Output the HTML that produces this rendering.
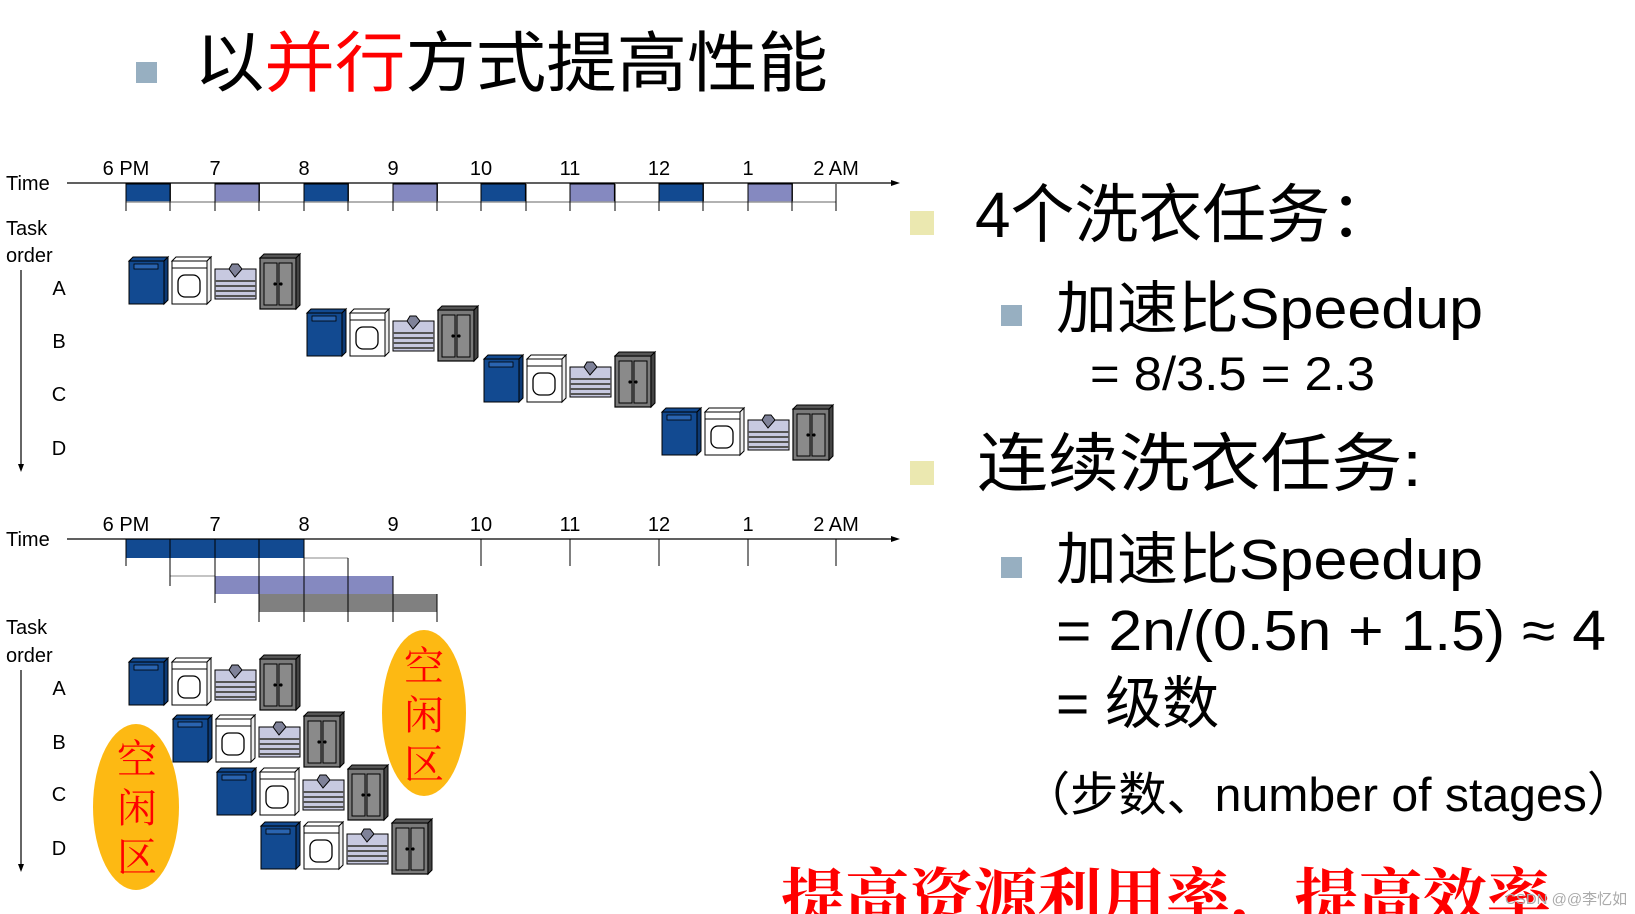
<!DOCTYPE html>
<html><head><meta charset="utf-8"><style>
html,body{margin:0;padding:0;background:#fff;width:1635px;height:914px;overflow:hidden}
svg{display:block}
.lbl{font-family:"Liberation Sans",sans-serif;font-size:20px;fill:#000}
.cj{font-family:"Liberation Sans","Noto Sans CJK SC",sans-serif;fill:#000}
</style></head><body>
<svg width="1635" height="914" viewBox="0 0 1635 914" xmlns="http://www.w3.org/2000/svg">
<defs>
<g id="set">
  <rect x="0" y="4" width="35" height="43" fill="#124a91" stroke="#000" stroke-width="1"/>
  <polygon points="0,4 4,0 39,0 35,4" fill="#124a91" stroke="#000" stroke-width="1"/>
  <polygon points="35,4 39,0 39,43 35,47" fill="#0d3a75" stroke="#000" stroke-width="1"/>
  <rect x="5" y="7" width="24" height="5" fill="#2a64b0" stroke="#000" stroke-width="0.8"/>
  <rect x="43" y="4" width="35" height="43" fill="#fff" stroke="#000" stroke-width="1"/>
  <polygon points="43,4 47,0 82,0 78,4" fill="#fff" stroke="#000" stroke-width="1"/>
  <polygon points="78,4 82,0 82,43 78,47" fill="#eee" stroke="#000" stroke-width="1"/>
  <line x1="43" y1="11" x2="78" y2="11" stroke="#000"/>
  <rect x="49" y="18" width="22" height="22" rx="7" fill="#fff" stroke="#000" stroke-width="1.3"/>
  <rect x="86" y="12" width="41" height="30" fill="#c7c9e0" stroke="#000" stroke-width="1"/>
  <g stroke="#555" stroke-width="2">
    <line x1="86" y1="24" x2="127" y2="24"/><line x1="86" y1="29" x2="127" y2="29"/>
    <line x1="86" y1="34" x2="127" y2="34"/><line x1="86" y1="39" x2="127" y2="39"/>
  </g>
  <polygon points="100,12 106,20 113,12 109,7 103,7" fill="#7f8299" stroke="#000" stroke-width="1"/>
  <rect x="131" y="1" width="36" height="51" fill="#7a7a7a" stroke="#000" stroke-width="1.2"/>
  <polygon points="131,1 135,-3 171,-3 167,1" fill="#555" stroke="#000" stroke-width="1"/>
  <polygon points="167,1 171,-3 171,48 167,52" fill="#444" stroke="#000" stroke-width="1"/>
  <rect x="135" y="6" width="13" height="42" fill="#8a8a8a" stroke="#000" stroke-width="1"/>
  <rect x="150" y="6" width="13" height="42" fill="#8a8a8a" stroke="#000" stroke-width="1"/>
  <circle cx="146" cy="27" r="1.6" fill="#000"/><circle cx="152" cy="27" r="1.6" fill="#000"/>
</g>
</defs>

<rect x="136" y="62" width="21" height="21" fill="#97afc1"/>
<text x="194" y="86" class="cj" font-size="66" textLength="634" lengthAdjust="spacingAndGlyphs">以<tspan fill="#f00">并行</tspan>方式提高性能</text>

<text x="6" y="190" class="lbl">Time</text>
<line x1="67" y1="183" x2="893" y2="183" stroke="#000" stroke-width="1.3"/>
<polygon points="900,183 891,180 891,186" fill="#000"/>
<g class="lbl" text-anchor="middle">
<text x="126" y="175">6 PM</text><text x="215" y="175">7</text><text x="304" y="175">8</text>
<text x="393" y="175">9</text><text x="481" y="175">10</text><text x="570" y="175">11</text>
<text x="659" y="175">12</text><text x="748" y="175">1</text><text x="836" y="175">2 AM</text>
</g>
<g stroke="#000" stroke-width="1">
<rect x="126" y="184" width="44.4" height="18" fill="#124a91"/>
<rect x="215" y="184" width="44.4" height="18" fill="#8589c0"/>
<rect x="304" y="184" width="44.4" height="18" fill="#124a91"/>
<rect x="393" y="184" width="44.4" height="18" fill="#8589c0"/>
<rect x="481" y="184" width="44.4" height="18" fill="#124a91"/>
<rect x="570" y="184" width="44.4" height="18" fill="#8589c0"/>
<rect x="659" y="184" width="44.4" height="18" fill="#124a91"/>
<rect x="748" y="184" width="44.4" height="18" fill="#8589c0"/>
</g>
<line x1="126" y1="202" x2="836" y2="202" stroke="#999" stroke-width="1.5"/>
<g stroke="#000" stroke-width="1">
<line x1="126" y1="184" x2="126" y2="211"/><line x1="170" y1="184" x2="170" y2="211"/>
<line x1="215" y1="184" x2="215" y2="211"/><line x1="259" y1="184" x2="259" y2="211"/>
<line x1="304" y1="184" x2="304" y2="211"/><line x1="348" y1="184" x2="348" y2="211"/>
<line x1="393" y1="184" x2="393" y2="211"/><line x1="437" y1="184" x2="437" y2="211"/>
<line x1="481" y1="184" x2="481" y2="211"/><line x1="526" y1="184" x2="526" y2="211"/>
<line x1="570" y1="184" x2="570" y2="211"/><line x1="615" y1="184" x2="615" y2="211"/>
<line x1="659" y1="184" x2="659" y2="211"/><line x1="703" y1="184" x2="703" y2="211"/>
<line x1="748" y1="184" x2="748" y2="211"/><line x1="792" y1="184" x2="792" y2="211"/>
<line x1="836" y1="184" x2="836" y2="211"/>
</g>
<text x="6" y="235" class="lbl">Task</text>
<text x="6" y="262" class="lbl">order</text>
<line x1="21" y1="270" x2="21" y2="466" stroke="#000" stroke-width="1.2"/>
<polygon points="21,472 18,464 24,464" fill="#000"/>
<g class="lbl" text-anchor="middle">
<text x="59" y="295">A</text><text x="59" y="348">B</text><text x="59" y="401">C</text><text x="59" y="455">D</text>
</g>
<use href="#set" x="129" y="257"/>
<use href="#set" x="307" y="309"/>
<use href="#set" x="484" y="355"/>
<use href="#set" x="662" y="408"/>

<text x="6" y="546" class="lbl">Time</text>
<g class="lbl" text-anchor="middle">
<text x="126" y="531">6 PM</text><text x="215" y="531">7</text><text x="304" y="531">8</text>
<text x="393" y="531">9</text><text x="481" y="531">10</text><text x="570" y="531">11</text>
<text x="659" y="531">12</text><text x="748" y="531">1</text><text x="836" y="531">2 AM</text>
</g>
<rect x="126" y="539" width="178" height="19" fill="#124a91"/>
<rect x="215" y="576" width="178" height="18" fill="#8589c0"/>
<rect x="259" y="594" width="178" height="18" fill="#808080"/>
<line x1="67" y1="539" x2="893" y2="539" stroke="#000" stroke-width="1.3"/>
<polygon points="900,539 891,536 891,542" fill="#000"/>
<g stroke="#000" stroke-width="1">
<line x1="304" y1="558" x2="348" y2="558" stroke="#888"/>
<line x1="170" y1="576" x2="215" y2="576" stroke="#888"/>
<line x1="126" y1="539" x2="126" y2="566"/>
<line x1="170" y1="539" x2="170" y2="586"/>
<line x1="215" y1="539" x2="215" y2="603"/>
<line x1="259" y1="539" x2="259" y2="622"/>
<line x1="304" y1="539" x2="304" y2="622"/>
<line x1="348" y1="558" x2="348" y2="622"/>
<line x1="393" y1="576" x2="393" y2="622"/>
<line x1="437" y1="594" x2="437" y2="622"/>
<line x1="481" y1="539" x2="481" y2="566"/><line x1="570" y1="539" x2="570" y2="566"/>
<line x1="659" y1="539" x2="659" y2="566"/><line x1="748" y1="539" x2="748" y2="566"/>
<line x1="836" y1="539" x2="836" y2="566"/>
</g>
<text x="6" y="634" class="lbl">Task</text>
<text x="6" y="662" class="lbl">order</text>
<line x1="21" y1="670" x2="21" y2="866" stroke="#000" stroke-width="1.2"/>
<polygon points="21,872 18,864 24,864" fill="#000"/>
<g class="lbl" text-anchor="middle">
<text x="59" y="695">A</text><text x="59" y="749">B</text><text x="59" y="801">C</text><text x="59" y="855">D</text>
</g>
<ellipse cx="136" cy="807" rx="43" ry="83" fill="#fdb913"/>
<ellipse cx="424" cy="713" rx="42" ry="83" fill="#fdb913"/>
<use href="#set" x="129" y="658"/>
<use href="#set" x="173" y="715"/>
<use href="#set" x="217" y="768"/>
<use href="#set" x="261" y="822"/>
<g font-family="'Noto Serif CJK SC','Liberation Serif',serif" font-size="40" fill="#f00" text-anchor="middle">
<text x="137" y="773">空</text><text x="137" y="822">闲</text><text x="137" y="871">区</text>
<text x="424" y="680">空</text><text x="424" y="729">闲</text><text x="424" y="778">区</text>
</g>

<rect x="910" y="211" width="24" height="24" fill="#ebe8b0"/>
<text x="975" y="237" class="cj" font-size="64" textLength="419" lengthAdjust="spacingAndGlyphs">4个洗衣任务：</text>
<rect x="1001" y="305" width="21" height="21" fill="#97afc1"/>
<text x="1056" y="328" class="cj" font-size="57" textLength="427" lengthAdjust="spacingAndGlyphs">加速比Speedup</text>
<text x="1090" y="390" class="cj" font-size="47" textLength="285" lengthAdjust="spacingAndGlyphs">= 8/3.5 = 2.3</text>
<rect x="910" y="461" width="24" height="24" fill="#ebe8b0"/>
<text x="977" y="486" class="cj" font-size="64" textLength="445" lengthAdjust="spacingAndGlyphs">连续洗衣任务:</text>
<rect x="1001" y="557" width="21" height="21" fill="#97afc1"/>
<text x="1056" y="579" class="cj" font-size="57" textLength="427" lengthAdjust="spacingAndGlyphs">加速比Speedup</text>
<text x="1056" y="650" class="cj" font-size="57" textLength="550" lengthAdjust="spacingAndGlyphs">= 2n/(0.5n + 1.5) ≈ 4</text>
<text x="1056" y="723" class="cj" font-size="57">= 级数</text>
<text x="1022" y="811" class="cj" font-size="47" textLength="613" lengthAdjust="spacingAndGlyphs">（步数、number of stages）</text>
<text x="781" y="918" font-family="'Noto Serif CJK SC','Liberation Serif',serif" font-weight="bold" font-size="60" fill="#f00" textLength="770" lengthAdjust="spacingAndGlyphs">提高资源利用率，提高效率</text>
<text x="1505" y="904" font-family="'Liberation Sans','Noto Sans CJK SC',sans-serif" font-size="15" fill="#aaa">CSDN @@李忆如</text>
</svg>
</body></html>
